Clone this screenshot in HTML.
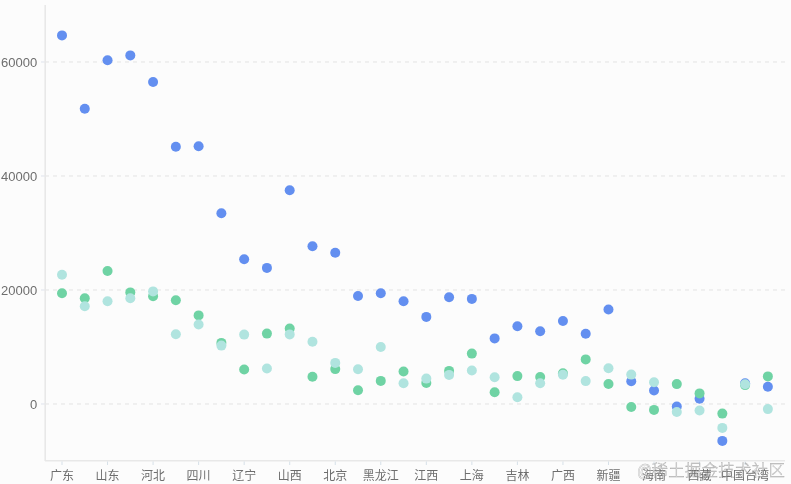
<!DOCTYPE html>
<html><head><meta charset="utf-8"><style>
html,body{margin:0;padding:0;background:#fcfcfc;}
body{width:791px;height:484px;overflow:hidden;position:relative;}
svg{position:absolute;left:0;top:0;will-change:transform;}
.yl{font-family:"Liberation Sans",Arial,sans-serif;font-size:13px;fill:#6e6e6e;}
.xl{font-family:"Liberation Sans","Noto Sans CJK SC",sans-serif;font-size:12px;fill:#6e6e6e;}
.wm{position:absolute;left:0;top:0;width:791px;height:484px;will-change:transform;font-family:"Liberation Sans","Noto Sans CJK SC",sans-serif;color:rgba(255,255,255,0.45);-webkit-text-stroke:0.45px rgba(90,90,90,0.5);font-weight:300;white-space:nowrap;}
.wm .at{position:absolute;left:637px;top:460.8px;font-size:18.5px;line-height:20px;transform:scaleX(0.8);transform-origin:0 0;}
.wm .cj{position:absolute;left:651.6px;top:460.4px;font-size:16.4px;letter-spacing:0.3px;line-height:20px;}
</style></head><body>
<svg width="791" height="484" viewBox="0 0 791 484">
<line x1="45" y1="62" x2="785" y2="62" stroke="#e3e3e3" stroke-width="1" stroke-dasharray="4 4"/>
<line x1="41" y1="62" x2="45" y2="62" stroke="#dfe3ec" stroke-width="1"/>
<line x1="45" y1="176" x2="785" y2="176" stroke="#e3e3e3" stroke-width="1" stroke-dasharray="4 4"/>
<line x1="41" y1="176" x2="45" y2="176" stroke="#dfe3ec" stroke-width="1"/>
<line x1="45" y1="290" x2="785" y2="290" stroke="#e3e3e3" stroke-width="1" stroke-dasharray="4 4"/>
<line x1="41" y1="290" x2="45" y2="290" stroke="#dfe3ec" stroke-width="1"/>
<line x1="45" y1="404" x2="785" y2="404" stroke="#e3e3e3" stroke-width="1" stroke-dasharray="4 4"/>
<line x1="41" y1="404" x2="45" y2="404" stroke="#dfe3ec" stroke-width="1"/>
<line x1="45.2" y1="5" x2="45.2" y2="461" stroke="#e8e8e8" stroke-width="1.6"/>
<line x1="45" y1="460.7" x2="785" y2="460.7" stroke="#e8e8e8" stroke-width="1.6"/>
<line x1="62.00" y1="461.5" x2="62.00" y2="465" stroke="#d6e0e8" stroke-width="1"/>
<line x1="107.54" y1="461.5" x2="107.54" y2="465" stroke="#d6e0e8" stroke-width="1"/>
<line x1="153.08" y1="461.5" x2="153.08" y2="465" stroke="#d6e0e8" stroke-width="1"/>
<line x1="198.62" y1="461.5" x2="198.62" y2="465" stroke="#d6e0e8" stroke-width="1"/>
<line x1="244.16" y1="461.5" x2="244.16" y2="465" stroke="#d6e0e8" stroke-width="1"/>
<line x1="289.70" y1="461.5" x2="289.70" y2="465" stroke="#d6e0e8" stroke-width="1"/>
<line x1="335.24" y1="461.5" x2="335.24" y2="465" stroke="#d6e0e8" stroke-width="1"/>
<line x1="380.78" y1="461.5" x2="380.78" y2="465" stroke="#d6e0e8" stroke-width="1"/>
<line x1="426.32" y1="461.5" x2="426.32" y2="465" stroke="#d6e0e8" stroke-width="1"/>
<line x1="471.86" y1="461.5" x2="471.86" y2="465" stroke="#d6e0e8" stroke-width="1"/>
<line x1="517.40" y1="461.5" x2="517.40" y2="465" stroke="#d6e0e8" stroke-width="1"/>
<line x1="562.94" y1="461.5" x2="562.94" y2="465" stroke="#d6e0e8" stroke-width="1"/>
<line x1="608.48" y1="461.5" x2="608.48" y2="465" stroke="#d6e0e8" stroke-width="1"/>
<line x1="654.02" y1="461.5" x2="654.02" y2="465" stroke="#d6e0e8" stroke-width="1"/>
<line x1="699.56" y1="461.5" x2="699.56" y2="465" stroke="#d6e0e8" stroke-width="1"/>
<line x1="745.10" y1="461.5" x2="745.10" y2="465" stroke="#d6e0e8" stroke-width="1"/>
<text x="37.2" y="66.6" text-anchor="end" class="yl">60000</text>
<text x="37.2" y="180.6" text-anchor="end" class="yl">40000</text>
<text x="37.2" y="294.6" text-anchor="end" class="yl">20000</text>
<text x="37.2" y="408.6" text-anchor="end" class="yl">0</text>
<text x="62.00" y="480.3" text-anchor="middle" class="xl">广东</text>
<text x="107.54" y="480.3" text-anchor="middle" class="xl">山东</text>
<text x="153.08" y="480.3" text-anchor="middle" class="xl">河北</text>
<text x="198.62" y="480.3" text-anchor="middle" class="xl">四川</text>
<text x="244.16" y="480.3" text-anchor="middle" class="xl">辽宁</text>
<text x="289.70" y="480.3" text-anchor="middle" class="xl">山西</text>
<text x="335.24" y="480.3" text-anchor="middle" class="xl">北京</text>
<text x="380.78" y="480.3" text-anchor="middle" class="xl">黑龙江</text>
<text x="426.32" y="480.3" text-anchor="middle" class="xl">江西</text>
<text x="471.86" y="480.3" text-anchor="middle" class="xl">上海</text>
<text x="517.40" y="480.3" text-anchor="middle" class="xl">吉林</text>
<text x="562.94" y="480.3" text-anchor="middle" class="xl">广西</text>
<text x="608.48" y="480.3" text-anchor="middle" class="xl">新疆</text>
<text x="654.02" y="480.3" text-anchor="middle" class="xl">海南</text>
<text x="699.56" y="480.3" text-anchor="middle" class="xl">西藏</text>
<text x="745.10" y="480.3" text-anchor="middle" class="xl">中国台湾</text>
<circle cx="62.00" cy="35.4" r="5" fill="#638ff0"/>
<circle cx="84.77" cy="108.7" r="5" fill="#638ff0"/>
<circle cx="107.54" cy="60.2" r="5" fill="#638ff0"/>
<circle cx="130.31" cy="55.4" r="5" fill="#638ff0"/>
<circle cx="153.08" cy="82.0" r="5" fill="#638ff0"/>
<circle cx="175.85" cy="146.7" r="5" fill="#638ff0"/>
<circle cx="198.62" cy="146.3" r="5" fill="#638ff0"/>
<circle cx="221.39" cy="213.3" r="5" fill="#638ff0"/>
<circle cx="244.16" cy="259.3" r="5" fill="#638ff0"/>
<circle cx="266.93" cy="267.9" r="5" fill="#638ff0"/>
<circle cx="289.70" cy="190.3" r="5" fill="#638ff0"/>
<circle cx="312.47" cy="246.3" r="5" fill="#638ff0"/>
<circle cx="335.24" cy="252.7" r="5" fill="#638ff0"/>
<circle cx="358.01" cy="296.0" r="5" fill="#638ff0"/>
<circle cx="380.78" cy="293.3" r="5" fill="#638ff0"/>
<circle cx="403.55" cy="301.2" r="5" fill="#638ff0"/>
<circle cx="426.32" cy="316.9" r="5" fill="#638ff0"/>
<circle cx="449.09" cy="297.2" r="5" fill="#638ff0"/>
<circle cx="471.86" cy="298.9" r="5" fill="#638ff0"/>
<circle cx="494.63" cy="338.4" r="5" fill="#638ff0"/>
<circle cx="517.40" cy="326.3" r="5" fill="#638ff0"/>
<circle cx="540.17" cy="331.3" r="5" fill="#638ff0"/>
<circle cx="562.94" cy="321.0" r="5" fill="#638ff0"/>
<circle cx="585.71" cy="333.8" r="5" fill="#638ff0"/>
<circle cx="608.48" cy="309.5" r="5" fill="#638ff0"/>
<circle cx="631.25" cy="381.2" r="5" fill="#638ff0"/>
<circle cx="654.02" cy="390.5" r="5" fill="#638ff0"/>
<circle cx="676.79" cy="406.6" r="5" fill="#638ff0"/>
<circle cx="699.56" cy="398.7" r="5" fill="#638ff0"/>
<circle cx="722.33" cy="440.9" r="5" fill="#638ff0"/>
<circle cx="745.10" cy="383.3" r="5" fill="#638ff0"/>
<circle cx="767.87" cy="386.7" r="5" fill="#638ff0"/>
<circle cx="62.00" cy="293.3" r="5" fill="#6fd3a4"/>
<circle cx="84.77" cy="298.2" r="5" fill="#6fd3a4"/>
<circle cx="107.54" cy="271.0" r="5" fill="#6fd3a4"/>
<circle cx="130.31" cy="292.4" r="5" fill="#6fd3a4"/>
<circle cx="153.08" cy="296.3" r="5" fill="#6fd3a4"/>
<circle cx="175.85" cy="300.3" r="5" fill="#6fd3a4"/>
<circle cx="198.62" cy="315.4" r="5" fill="#6fd3a4"/>
<circle cx="221.39" cy="342.9" r="5" fill="#6fd3a4"/>
<circle cx="244.16" cy="369.5" r="5" fill="#6fd3a4"/>
<circle cx="266.93" cy="333.6" r="5" fill="#6fd3a4"/>
<circle cx="289.70" cy="328.6" r="5" fill="#6fd3a4"/>
<circle cx="312.47" cy="376.7" r="5" fill="#6fd3a4"/>
<circle cx="335.24" cy="369.1" r="5" fill="#6fd3a4"/>
<circle cx="358.01" cy="390.2" r="5" fill="#6fd3a4"/>
<circle cx="380.78" cy="380.9" r="5" fill="#6fd3a4"/>
<circle cx="403.55" cy="371.5" r="5" fill="#6fd3a4"/>
<circle cx="426.32" cy="382.9" r="5" fill="#6fd3a4"/>
<circle cx="449.09" cy="370.9" r="5" fill="#6fd3a4"/>
<circle cx="471.86" cy="353.6" r="5" fill="#6fd3a4"/>
<circle cx="494.63" cy="392.2" r="5" fill="#6fd3a4"/>
<circle cx="517.40" cy="376.1" r="5" fill="#6fd3a4"/>
<circle cx="540.17" cy="377.0" r="5" fill="#6fd3a4"/>
<circle cx="562.94" cy="373.2" r="5" fill="#6fd3a4"/>
<circle cx="585.71" cy="359.4" r="5" fill="#6fd3a4"/>
<circle cx="608.48" cy="384.0" r="5" fill="#6fd3a4"/>
<circle cx="631.25" cy="407.0" r="5" fill="#6fd3a4"/>
<circle cx="654.02" cy="409.9" r="5" fill="#6fd3a4"/>
<circle cx="676.79" cy="384.1" r="5" fill="#6fd3a4"/>
<circle cx="699.56" cy="393.4" r="5" fill="#6fd3a4"/>
<circle cx="722.33" cy="413.6" r="5" fill="#6fd3a4"/>
<circle cx="745.10" cy="385.1" r="5" fill="#6fd3a4"/>
<circle cx="767.87" cy="376.4" r="5" fill="#6fd3a4"/>
<circle cx="62.00" cy="274.7" r="5" fill="#b0e4df"/>
<circle cx="84.77" cy="306.3" r="5" fill="#b0e4df"/>
<circle cx="107.54" cy="301.3" r="5" fill="#b0e4df"/>
<circle cx="130.31" cy="298.2" r="5" fill="#b0e4df"/>
<circle cx="153.08" cy="291.4" r="5" fill="#b0e4df"/>
<circle cx="175.85" cy="334.2" r="5" fill="#b0e4df"/>
<circle cx="198.62" cy="324.5" r="5" fill="#b0e4df"/>
<circle cx="221.39" cy="345.6" r="5" fill="#b0e4df"/>
<circle cx="244.16" cy="334.6" r="5" fill="#b0e4df"/>
<circle cx="266.93" cy="368.5" r="5" fill="#b0e4df"/>
<circle cx="289.70" cy="334.4" r="5" fill="#b0e4df"/>
<circle cx="312.47" cy="341.8" r="5" fill="#b0e4df"/>
<circle cx="335.24" cy="362.9" r="5" fill="#b0e4df"/>
<circle cx="358.01" cy="369.3" r="5" fill="#b0e4df"/>
<circle cx="380.78" cy="347.0" r="5" fill="#b0e4df"/>
<circle cx="403.55" cy="383.2" r="5" fill="#b0e4df"/>
<circle cx="426.32" cy="378.6" r="5" fill="#b0e4df"/>
<circle cx="449.09" cy="374.9" r="5" fill="#b0e4df"/>
<circle cx="471.86" cy="370.5" r="5" fill="#b0e4df"/>
<circle cx="494.63" cy="377.2" r="5" fill="#b0e4df"/>
<circle cx="517.40" cy="397.2" r="5" fill="#b0e4df"/>
<circle cx="540.17" cy="383.2" r="5" fill="#b0e4df"/>
<circle cx="562.94" cy="374.7" r="5" fill="#b0e4df"/>
<circle cx="585.71" cy="381.1" r="5" fill="#b0e4df"/>
<circle cx="608.48" cy="368.2" r="5" fill="#b0e4df"/>
<circle cx="631.25" cy="374.6" r="5" fill="#b0e4df"/>
<circle cx="654.02" cy="382.2" r="5" fill="#b0e4df"/>
<circle cx="676.79" cy="412.0" r="5" fill="#b0e4df"/>
<circle cx="699.56" cy="410.5" r="5" fill="#b0e4df"/>
<circle cx="722.33" cy="427.9" r="5" fill="#b0e4df"/>
<circle cx="745.10" cy="384.3" r="5" fill="#b0e4df"/>
<circle cx="767.87" cy="409.1" r="5" fill="#b0e4df"/>
</svg>
<div class="wm"><span class="at">@</span><span class="cj">稀土掘金技术社区</span></div>
</body></html>
